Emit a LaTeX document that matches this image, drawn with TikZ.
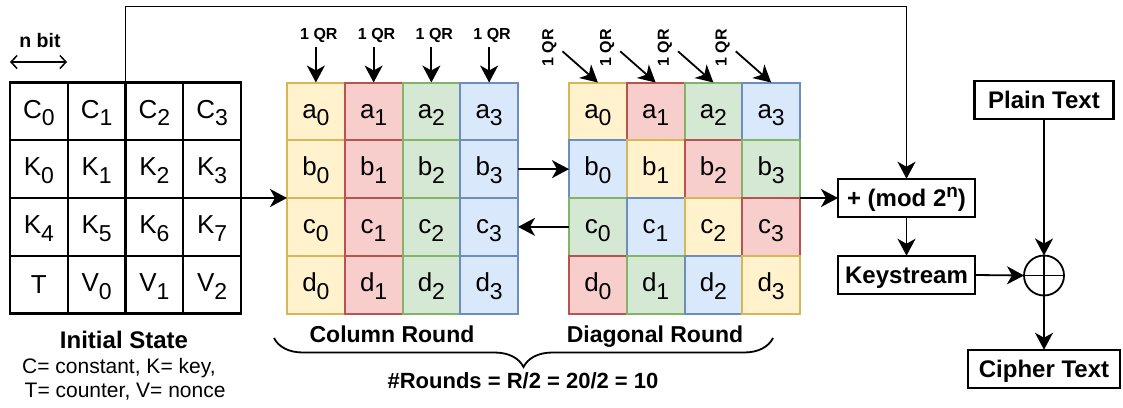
\documentclass[tikz,border=0pt]{standalone}
\usepackage{fontspec}
\setmainfont{Liberation Sans}
\usetikzlibrary{arrows.meta,decorations.pathreplacing}
\definecolor{yF}{HTML}{FFF2CC}\definecolor{yS}{HTML}{D6B656}
\definecolor{rF}{HTML}{F8CECC}\definecolor{rS}{HTML}{B85450}
\definecolor{gF}{HTML}{D5E8D4}\definecolor{gS}{HTML}{82B366}
\definecolor{bF}{HTML}{DAE8FC}\definecolor{bS}{HTML}{6C8EBF}
\newcommand\mysub[1]{\raisebox{-7.7pt}{\fontsize{23}{23}\selectfont #1}}
\newcommand\fs[1]{\fontsize{#1}{#1}\selectfont}
\begin{document}
\begin{tikzpicture}[x=1pt,y=-1pt,
  cell/.style={minimum width=57.75pt, minimum height=57.75pt, inner sep=0pt, outer sep=0pt,
    font=\fs{26}, text height=20pt, text depth=6.6pt},
  bw/.style={cell, draw=black, line width=2.2pt},
  col0/.style={cell, draw=yS, fill=yF, line width=2pt},
  col1/.style={cell, draw=rS, fill=rF, line width=2pt},
  col2/.style={cell, draw=gS, fill=gF, line width=2pt},
  col3/.style={cell, draw=bS, fill=bF, line width=2pt},
  arr/.style={line width=1.8pt, -{Stealth[length=17pt,width=18pt,inset=5pt]}},
  qr/.style={font=\fs{16}\bfseries, inner sep=2pt},
  box/.style={draw, line width=2.2pt, font=\fs{24}\bfseries, text height=17pt, text depth=0pt,
    inner sep=0pt, outer sep=0pt, minimum height=38.5pt},
  lab/.style={anchor=base, inner sep=0pt}
]
\useasboundingbox (0,0) rectangle (1123,407);

% initial state grid
\foreach \r/\c/\t in {0/0/C\mysub{0},0/1/C\mysub{1},0/2/C\mysub{2},0/3/C\mysub{3},
  1/0/K\mysub{0},1/1/K\mysub{1},1/2/K\mysub{2},1/3/K\mysub{3},
  2/0/K\mysub{4},2/1/K\mysub{5},2/2/K\mysub{6},2/3/K\mysub{7},
  3/1/V\mysub{0},3/2/V\mysub{1},3/3/V\mysub{2}}{
  \node[bw] (i\r\c) at ({10+57.75*(\c+0.5)},{82.5+57.75*(\r+0.5)}) {\t};
}
\node[bw, text height=20pt, text depth=3.2pt] (i30) at ({10+57.75*0.5},{82.5+57.75*3.5}) {T};

% column round grid
\foreach \r/\l in {0/a,1/b,2/c,3/d}{
  \foreach \c in {0,1,2,3}{
    \node[col\c] (c\r\c) at ({287+57.75*(\c+0.5)},{82.5+57.75*(\r+0.5)}) {\l\mysub{\c}};
  }
}
% diagonal round grid
\foreach \r/\l in {0/a,1/b,2/c,3/d}{
  \foreach \c in {0,1,2,3}{
    \pgfmathtruncatemacro\k{mod(\c-\r+4,4)}
    \node[col\k] (dg\r\c) at ({569+57.75*(\c+0.5)},{82.5+57.75*(\r+0.5)}) {\l\mysub{\c}};
  }
}

% QR labels
\foreach \c in {0,1,2,3}{
  \node[qr, lab, inner sep=2pt] (cq\c) at ({287+57.75*(\c+0.5)+3},39) {1 QR};
  \draw[arr, shorten <=3pt] (c0\c.north |- cq\c.south) -- (c0\c.north);
  \node[qr, rotate=90] (dq\c) at ({569+57.75*(\c+0.5)-48.5},48) {1 QR};
  \draw[arr, shorten <=5pt] (dq\c.south) -- (dg0\c.north);
}

% n bit
\node[lab, font=\fs{19.5}\bfseries] (nbit) at (40,47) {n bit};
\coordinate (nb1) at (10,62);
\coordinate (nb2) at (67,62);
\draw[line width=1.5pt, {Straight Barb[length=6pt,width=13pt]}-{Straight Barb[length=6pt,width=13pt]}] (nb1) -- (nb2);

% right side boxes
\node[box, minimum width=137pt] (mod) at (906.5,198) {+ (mod 2\raisebox{9pt}{\fs{19}n})};
\node[box, minimum width=137pt] (ks) at (906.5,275) {Keystream};
\node[box, minimum width=139pt] (plain) at (1044,100) {Plain Text};
\node[box, minimum width=152pt] (cipher) at (1044,369) {Cipher Text};
\node[draw, circle, minimum size=40pt, inner sep=0pt, outer sep=0pt, line width=1.8pt,
  path picture={\draw[line width=1.5pt] (path picture bounding box.north) -- (path picture bounding box.south)
   (path picture bounding box.west) -- (path picture bounding box.east);}] (xor) at (1044,275.5) {};

% connectors
\coordinate (topY) at (0,6.5);
\draw[arr] (i02.north west) |- (mod.north |- topY) -- (mod.north);
\draw[arr] (i13.south east) -- (c10.south west);
\draw[arr] (c13.east) -- (dg10.west);
\draw[arr] (dg20.west) -- (c23.east);
\draw[arr] (dg13.south east) -- (mod.west);
\draw[arr] (mod.south) -- (ks.north);
\draw[arr] (ks.east) -- (xor.west);
\draw[arr] (plain.south) -- (xor.north);
\draw[arr] (xor.south) -- (cipher.north);

% labels
\node[lab, font=\fs{24}\bfseries] (init) at (124,348) {Initial State};
\node[lab, anchor=base west, font=\fs{21}] (note1) at (22,373) {C= constant, K= key,};
\node[lab, anchor=base west, font=\fs{21}] (note2) at (24.5,397) {T= counter, V= nonce};
\node[lab, font=\fs{23}\bfseries] (colr) at (392,342) {Column Round};
\node[lab, font=\fs{23}\bfseries] (diagr) at (655,342) {Diagonal Round};
\coordinate (br1) at (274,338);
\coordinate (br2) at (773,338);
\draw[decorate, decoration={brace, mirror, amplitude=29pt}, line width=1.8pt] (br1) -- (br2);
\node[lab, font=\fs{22}\bfseries] (rounds) at (523,388) {\#Rounds = R/2 = 20/2 = 10};
\end{tikzpicture}
\end{document}
